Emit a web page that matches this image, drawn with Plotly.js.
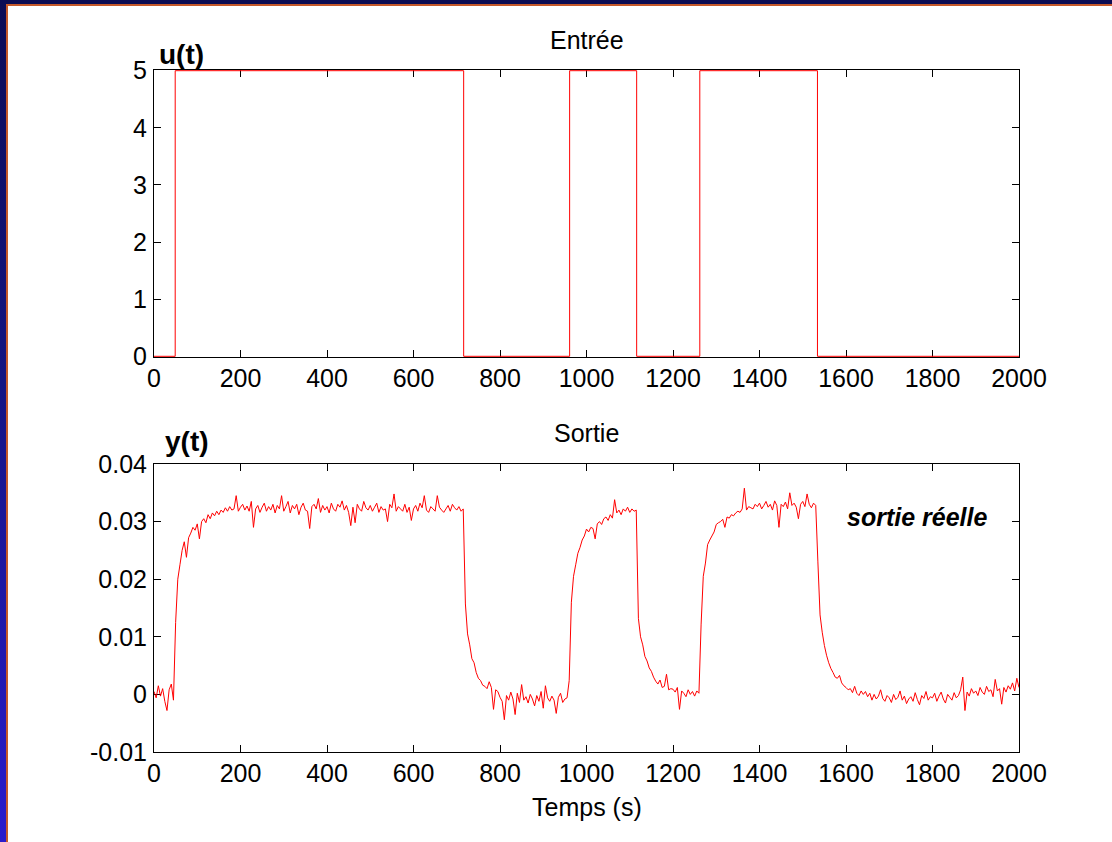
<!DOCTYPE html>
<html>
<head>
<meta charset="utf-8">
<script src="https://cdn.plot.ly/plotly-3.0.1.min.js"></script>
<style>
  html, body { margin: 0; padding: 0; background: #ffffff; overflow: hidden; }
  #chart { position: absolute; left: 0; top: 0; width: 1112px; height: 842px; }
  .band { position: absolute; pointer-events: none; }
</style>
</head>
<body>
<div id="chart"></div>
<div class="band" style="left:0;top:0;width:1112px;height:4px;background:#0b0b52;"></div>
<div class="band" style="left:6px;top:4px;width:1106px;height:2px;background:#c4582a;"></div>
<div class="band" style="left:0;top:0;width:6px;height:842px;background:linear-gradient(to bottom,#0b0b55 0%,#141482 45%,#2a1bcc 100%);"></div>
<div class="band" style="left:6px;top:4px;width:2px;height:838px;background:#c4582a;"></div>
<script>
// ---- Input u(t): switching instants (s) and levels ----
const uTimes  = [0, 49, 716, 961, 1116, 1262, 1534, 2000];
const uLevels = [0, 5, 0, 5, 0, 5, 0, 0];

// ---- Measured output y(t), sampled every 5 s from t = 0 to 2000 s (units of 1e-4) ----
const ySampleStart = 0;
const ySampleStep = 5;
const yOut_e4 = [
  5, -6, 15, -3, 10, -12, -28, 8, 18, -10,
  125, 200, 225, 250, 265, 238, 272, 280, 290, 285,
  296, 270, 300, 305, 298, 312, 305, 315, 310, 318,
  312, 320, 316, 324, 318, 326, 320, 322, 345, 318,
  325, 330, 320, 327, 318, 335, 290, 322, 328, 316,
  325, 332, 318, 326, 320, 330, 315, 328, 322, 345,
  318, 326, 335, 315, 328, 322, 330, 312, 325, 332,
  320, 318, 288, 326, 330, 322, 340, 316, 328, 320,
  326, 315, 332, 322, 318, 330, 325, 336, 320, 328,
  316, 293, 325, 298, 330, 322, 318, 335, 324, 320,
  328, 318, 325, 332, 316, 326, 320, 322, 300, 330,
  324, 348, 318, 326, 322, 318, 330, 316, 325, 302,
  322, 328, 318, 332, 324, 345, 320, 316, 326, 322,
  318, 345, 325, 320, 316, 322, 328, 318, 330, 324,
  320, 326, 318, 322, 157, 105, 86, 62, 55, 38,
  28, 24, 16, 14, 10, 22, 12, -26, 8, 5,
  -5, -12, -44, -2, -10, 4, -8, -35, 2, -14,
  17, -10, -4, -15, 0, -8, -20, -2, -12, 5,
  -24, 15, -6, -12, -3, -10, -33, -5, 2, -14,
  -8, -6, 24, 160, 205, 225, 245, 255, 268, 275,
  287, 282, 290, 288, 270, 296, 300, 295, 305, 308,
  302, 312, 306, 338, 315, 320, 312, 322, 318, 325,
  316, 322, 318, 320, 132, 100, 86, 66, 58, 46,
  40, 30, 23, 18, 25, 12, 14, 35, 8, 10,
  9, 4, 12, -26, 6, 2, -4, 8, 0, 5,
  -3, 6, 2, 122, 205, 228, 260, 268, 275, 282,
  295, 298, 300, 304, 290, 308, 306, 312, 310, 315,
  318, 316, 322, 358, 320, 326, 324, 322, 330, 326,
  332, 322, 328, 335, 325, 330, 320, 336, 328, 290,
  330, 326, 334, 322, 350, 328, 332, 325, 305, 330,
  335, 326, 348, 330, 324, 332, 328, 230, 138, 108,
  85, 68, 55, 45, 38, 30, 28, 33, 20, 15,
  12, 8, 10, 3, 14, 2, -2, 6, 0, 5,
  -4, 2, -10, 0, -8, -3, 8, -7, -12, -2,
  -6, -14, 0, -9, -5, 6, -10, -3, -16, -8,
  -4, -12, 3, -9, -18, -2, -7, 5, -10, -4,
  -6, 2, -12, -3, 4, -8, -15, 0, -5, -10,
  3, -6, -2, 8, 30, -28, 4, -3, 10, 2,
  6, -2, 12, 4, 0, 14, 5, 8, -4, 26,
  6, 10, -17, 12, 4, 15, 9, 20, 6, 28,
  12
];
const yOut = yOut_e4.map(v => v / 10000);

// ---- Tick labels ----
const xTickVals = [0, 200, 400, 600, 800, 1000, 1200, 1400, 1600, 1800, 2000];
const xTickText = ["0", "200", "400", "600", "800", "1000", "1200", "1400", "1600", "1800", "2000"];
const uTickVals = [0, 1, 2, 3, 4, 5];
const uTickText = ["0", "1", "2", "3", "4", "5"];
const yTickVals = [-0.01, 0, 0.01, 0.02, 0.03, 0.04];
const yTickText = ["-0.01", "0", "0.01", "0.02", "0.03", "0.04"];

const FONT = "Liberation Sans, Arial, Helvetica, sans-serif";

const traces = [
  {
    x: uTimes, y: uLevels, xaxis: "x", yaxis: "y",
    type: "scatter", mode: "lines",
    line: { color: "#ff0000", width: 1, shape: "hv" },
    hoverinfo: "skip", showlegend: false
  },
  {
    x0: ySampleStart, dx: ySampleStep, y: yOut, xaxis: "x2", yaxis: "y2",
    type: "scatter", mode: "lines",
    line: { color: "#ff0000", width: 1, simplify: false },
    hoverinfo: "skip", showlegend: false
  }
];

function xAxis(anchor) {
  return {
    anchor: anchor, domain: [0, 1], range: [0, 2000],
    tickmode: "array", tickvals: xTickVals, ticktext: xTickText,
    ticks: "inside", ticklen: 7, tickwidth: 1, tickcolor: "#000",
    showline: true, linecolor: "#000", linewidth: 1, mirror: "ticks",
    showgrid: false, zeroline: false, layer: "below traces",
    tickfont: { family: FONT, size: 25, color: "#000" },
    ticklabelstandoff: -1
  };
}
function yAxis(anchor, domain, range, vals, text) {
  return {
    anchor: anchor, domain: domain, range: range,
    tickmode: "array", tickvals: vals, ticktext: text,
    ticks: "inside", ticklen: 7, tickwidth: 1, tickcolor: "#000",
    showline: true, linecolor: "#000", linewidth: 1, mirror: "ticks",
    showgrid: false, zeroline: false, layer: "below traces",
    tickfont: { family: FONT, size: 25, color: "#000" },
    ticklabelstandoff: 1
  };
}

const layout = {
  width: 1112, height: 842,
  margin: { l: 154, r: 93, t: 70, b: 90 },
  paper_bgcolor: "#ffffff", plot_bgcolor: "#ffffff",
  font: { family: FONT, color: "#000" },
  showlegend: false,
  xaxis: xAxis("y"),
  yaxis: yAxis("x", [0.5792, 1], [-0.012, 5.012], uTickVals, uTickText),
  xaxis2: xAxis("y2"),
  yaxis2: yAxis("x2", [0, 0.4223], [-0.01, 0.04], yTickVals, yTickText),
  annotations: [
    { text: "Entrée", xref: "paper", yref: "paper", x: 0.5, y: 1.044, xanchor: "center", yanchor: "middle",
      showarrow: false, font: { family: FONT, size: 25, color: "#000" } },
    { text: "<b>u(t)</b>", xref: "paper", yref: "paper", x: 0.0035, y: 1.022, xanchor: "left", yanchor: "middle",
      showarrow: false, font: { family: FONT, size: 28, color: "#000" } },
    { text: "Sortie", xref: "paper", yref: "paper", x: 0.5, y: 0.4677, xanchor: "center", yanchor: "middle",
      showarrow: false, font: { family: FONT, size: 25, color: "#000" } },
    { text: "<b>y(t)</b>", xref: "paper", yref: "paper", x: 0.0104, y: 0.456, xanchor: "left", yanchor: "middle",
      showarrow: false, font: { family: FONT, size: 28, color: "#000" } },
    { text: "<b><i>sortie réelle</i></b>", xref: "paper", yref: "paper", x: 0.7988, y: 0.3446, xanchor: "left", yanchor: "middle",
      showarrow: false, font: { family: FONT, size: 25, color: "#000" } },
    { text: "Temps (s)", xref: "paper", yref: "paper", x: 0.5, y: -0.0806, xanchor: "center", yanchor: "middle",
      showarrow: false, font: { family: FONT, size: 25, color: "#000" } }
  ]
};

Plotly.newPlot("chart", traces, layout, { staticPlot: true, displayModeBar: false });
</script>
</body>
</html>
